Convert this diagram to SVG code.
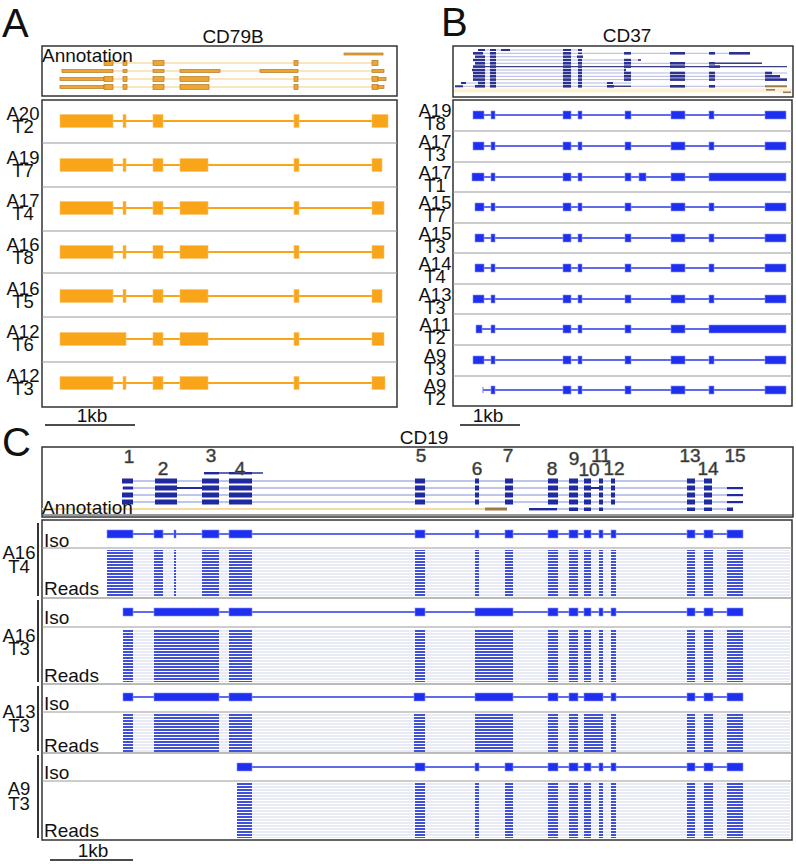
<svg xmlns="http://www.w3.org/2000/svg" width="796" height="864" viewBox="0 0 796 864">
<style>
text{font-family:"Liberation Sans",Arial,sans-serif;fill:#111}
.t{font-size:19px}
.lt{font-size:18.5px;text-anchor:middle}
.big{font-size:40px}
.num{font-size:19px;text-anchor:middle;fill:#222;stroke:#666;stroke-width:0.6}
.box{fill:none;stroke:#333;stroke-width:1.5}
.sep{stroke:#999;stroke-width:1}
.sepd{stroke:#777;stroke-width:1.2}
.ea{fill:#f9a51a;stroke:#fbc46a;stroke-width:0.6}
.la{stroke:#f9a51a;stroke-width:2}
.eaa{fill:#efa532;stroke:#b07a26;stroke-width:0.7}
.laa{stroke:#f6cd7e;stroke-width:1.2}
.eb{fill:#1f2ff0;stroke:#8a94f0;stroke-width:0.6}
.lb{stroke:#2a3ae0;stroke-width:1.5}
.ebb{fill:#2b3190}
.lbb{stroke:#a0a6d4;stroke-width:0.8}
.lbd{stroke:#3a3f80;stroke-width:1.4}
.ecc{fill:#1e2a9e}
.lcc{stroke:#7080d0;stroke-width:0.9}
.rd{fill:url(#rd)}
.gl{fill:url(#gl)}
.sc{stroke:#111;stroke-width:1.3}
.br{stroke:#333;stroke-width:2}
</style>
<defs>
<pattern id="rd" width="4" height="3" patternUnits="userSpaceOnUse"><rect width="4" height="2" fill="#4050d8"/></pattern>
<pattern id="gl" width="4" height="3" patternUnits="userSpaceOnUse"><rect y="0.5" width="4" height="1" fill="#d3d7ea"/></pattern>
</defs>
<rect width="796" height="864" fill="#fff"/>

<!-- ===== Panel A ===== -->
<g id="panelA">
<text class="big" x="2" y="37">A</text>
<text class="t" x="233" y="43" text-anchor="middle">CD79B</text>
<g id="A-annotation">
<rect class="box" x="42" y="46" width="355" height="50"/>
<rect class="eaa" x="344" y="53" width="39" height="2"/>
<line class="laa" x1="104" y1="63" x2="378" y2="63"/>
<rect class="eaa" x="104" y="60.5" width="9" height="5"/><rect class="eaa" x="123" y="60.5" width="4" height="5"/><rect class="eaa" x="153" y="60.5" width="11" height="5"/><rect class="eaa" x="294" y="60.5" width="4" height="5"/><rect class="eaa" x="372" y="60.5" width="6" height="5"/>
<line class="laa" x1="62" y1="71" x2="384" y2="71"/>
<rect class="eaa" x="62" y="69.5" width="51" height="3"/><rect class="eaa" x="123" y="69.5" width="4" height="3"/><rect class="eaa" x="153" y="69.5" width="11" height="3"/><rect class="eaa" x="180" y="69.5" width="40" height="3"/><rect class="eaa" x="260" y="69.5" width="38" height="3"/><rect class="eaa" x="372" y="69.5" width="12" height="3"/>
<line class="laa" x1="60" y1="79" x2="386" y2="79"/>
<rect class="eaa" x="60" y="77.5" width="44" height="3"/><rect class="eaa" x="104" y="76.5" width="9" height="5"/><rect class="eaa" x="123" y="76.5" width="4" height="5"/><rect class="eaa" x="153" y="76.5" width="11" height="5"/><rect class="eaa" x="180" y="76.5" width="29" height="5"/><rect class="eaa" x="294" y="76.5" width="4" height="5"/><rect class="eaa" x="372" y="76.5" width="6" height="5"/><rect class="eaa" x="378" y="77.5" width="8" height="3"/>
<line class="laa" x1="60" y1="87" x2="384" y2="87"/>
<rect class="eaa" x="60" y="85.5" width="44" height="3"/><rect class="eaa" x="104" y="84.5" width="9" height="5"/><rect class="eaa" x="123" y="84.5" width="4" height="5"/><rect class="eaa" x="153" y="84.5" width="11" height="5"/><rect class="eaa" x="180" y="84.5" width="29" height="5"/><rect class="eaa" x="294" y="84.5" width="4" height="5"/><rect class="eaa" x="372" y="84.5" width="6" height="5"/><rect class="eaa" x="378" y="85.5" width="6" height="3"/>
<text class="t" x="42" y="62">Annotation</text>
</g>
<g id="A-tracks">
<rect class="box" x="42" y="100" width="355" height="307" stroke="#555"/>
<line class="sep" x1="42" y1="143" x2="397" y2="143"/><line class="sep" x1="42" y1="187" x2="397" y2="187"/><line class="sep" x1="42" y1="231" x2="397" y2="231"/><line class="sep" x1="42" y1="273" x2="397" y2="273"/><line class="sep" x1="42" y1="317" x2="397" y2="317"/><line class="sep" x1="42" y1="362" x2="397" y2="362"/>
</g>
<g id="A20T2">
<text class="lt" x="23" y="120">A20</text><text class="lt" x="23" y="133">T2</text>
<line class="la" x1="60" y1="121" x2="388" y2="121"/>
<rect class="ea" x="60" y="114.5" width="53" height="13"/><rect class="ea" x="123" y="114.5" width="3" height="13"/><rect class="ea" x="153" y="114.5" width="10" height="13"/><rect class="ea" x="294" y="114.5" width="5" height="13"/><rect class="ea" x="372" y="114.5" width="16" height="13"/>
</g>
<g id="A19T7">
<text class="lt" x="23" y="164">A19</text><text class="lt" x="23" y="177">T7</text>
<line class="la" x1="60" y1="165" x2="382" y2="165"/>
<rect class="ea" x="60" y="158.5" width="53" height="13"/><rect class="ea" x="123" y="158.5" width="3" height="13"/><rect class="ea" x="153" y="158.5" width="10" height="13"/><rect class="ea" x="180" y="158.5" width="28" height="13"/><rect class="ea" x="294" y="158.5" width="5" height="13"/><rect class="ea" x="372" y="158.5" width="10" height="13"/>
</g>
<g id="A17T4">
<text class="lt" x="23" y="207">A17</text><text class="lt" x="23" y="220">T4</text>
<line class="la" x1="60" y1="208" x2="384" y2="208"/>
<rect class="ea" x="60" y="201.5" width="53" height="13"/><rect class="ea" x="123" y="201.5" width="3" height="13"/><rect class="ea" x="153" y="201.5" width="10" height="13"/><rect class="ea" x="180" y="201.5" width="28" height="13"/><rect class="ea" x="294" y="201.5" width="5" height="13"/><rect class="ea" x="372" y="201.5" width="12" height="13"/>
</g>
<g id="A16T8">
<text class="lt" x="23" y="251">A16</text><text class="lt" x="23" y="264">T8</text>
<line class="la" x1="60" y1="252" x2="384" y2="252"/>
<rect class="ea" x="60" y="245.5" width="53" height="13"/><rect class="ea" x="123" y="245.5" width="3" height="13"/><rect class="ea" x="153" y="245.5" width="10" height="13"/><rect class="ea" x="180" y="245.5" width="28" height="13"/><rect class="ea" x="294" y="245.5" width="5" height="13"/><rect class="ea" x="372" y="245.5" width="12" height="13"/>
</g>
<g id="A16T5">
<text class="lt" x="23" y="295">A16</text><text class="lt" x="23" y="308">T5</text>
<line class="la" x1="60" y1="296" x2="382" y2="296"/>
<rect class="ea" x="60" y="289.5" width="53" height="13"/><rect class="ea" x="123" y="289.5" width="3" height="13"/><rect class="ea" x="153" y="289.5" width="10" height="13"/><rect class="ea" x="180" y="289.5" width="28" height="13"/><rect class="ea" x="294" y="289.5" width="5" height="13"/><rect class="ea" x="372" y="289.5" width="10" height="13"/>
</g>
<g id="A12T6">
<text class="lt" x="23" y="338">A12</text><text class="lt" x="23" y="351">T6</text>
<line class="la" x1="60" y1="339" x2="384" y2="339"/>
<rect class="ea" x="60" y="332.5" width="66" height="13"/><rect class="ea" x="153" y="332.5" width="10" height="13"/><rect class="ea" x="180" y="332.5" width="28" height="13"/><rect class="ea" x="294" y="332.5" width="5" height="13"/><rect class="ea" x="372" y="332.5" width="12" height="13"/>
</g>
<g id="A12T3">
<text class="lt" x="23" y="382">A12</text><text class="lt" x="23" y="395">T3</text>
<line class="la" x1="60" y1="383" x2="385" y2="383"/>
<rect class="ea" x="60" y="376.5" width="53" height="13"/><rect class="ea" x="123" y="376.5" width="3" height="13"/><rect class="ea" x="153" y="376.5" width="10" height="13"/><rect class="ea" x="180" y="376.5" width="28" height="13"/><rect class="ea" x="294" y="376.5" width="5" height="13"/><rect class="ea" x="372" y="376.5" width="13" height="13"/>
</g>
<g id="A-scale">
<text class="t" x="92" y="422" text-anchor="middle">1kb</text>
<line class="sc" x1="45" y1="425" x2="135" y2="425"/>
</g>
</g>

<!-- ===== Panel B ===== -->
<g id="panelB">
<text class="big" x="441" y="36">B</text>
<text class="t" x="627" y="42" text-anchor="middle">CD37</text>
<g id="B-annotation">
<rect class="box" x="453" y="46" width="340" height="51"/>
<rect x="454" y="88.5" width="338" height="4" fill="#fbf1d2"/>
<line class="lbb" x1="478" y1="50" x2="582" y2="50"/>
<rect class="ebb" x="478" y="49" width="7" height="2"/><rect class="ebb" x="490" y="49" width="6" height="2"/><rect class="ebb" x="501" y="49" width="9" height="2"/><rect class="ebb" x="563" y="49" width="8" height="2"/><rect class="ebb" x="578" y="49" width="4" height="2"/>
<line class="lbb" x1="473" y1="53.3" x2="750" y2="53.3"/>
<rect class="ebb" x="473" y="52" width="10" height="2.6"/><rect class="ebb" x="490" y="52" width="6" height="2.6"/><rect class="ebb" x="563" y="52" width="8" height="2.6"/><rect class="ebb" x="578" y="52.5" width="4" height="1.6"/><rect class="ebb" x="624" y="52" width="7" height="2.6"/><rect class="ebb" x="670" y="52" width="15" height="2.6"/><rect class="ebb" x="709" y="52" width="6" height="2.6"/><rect class="ebb" x="729" y="52" width="21" height="2.6"/>
<line class="lbb" x1="475" y1="56.7" x2="583" y2="56.7"/>
<rect class="ebb" x="475" y="55.5" width="10" height="2.4"/><rect class="ebb" x="490" y="55.5" width="6" height="2.4"/><rect class="ebb" x="563" y="55.5" width="8" height="2.4"/><rect class="ebb" x="577" y="55.5" width="6" height="2.4"/>
<line class="lbb" x1="473" y1="60" x2="641" y2="60"/>
<rect class="ebb" x="473" y="58.8" width="12" height="2.4"/><rect class="ebb" x="490" y="58.8" width="6" height="2.4"/><rect class="ebb" x="563" y="58.8" width="8" height="2.4"/><rect class="ebb" x="578" y="58.8" width="4" height="2.4"/><rect class="ebb" x="624" y="58.8" width="7" height="2.4"/><rect class="ebb" x="638" y="59.2" width="3" height="1.6"/>
<line class="lbb" x1="475" y1="63.3" x2="762" y2="63.3"/>
<rect class="ebb" x="475" y="62" width="10" height="2.6"/><rect class="ebb" x="490" y="62" width="6" height="2.6"/><rect class="ebb" x="563" y="62" width="8" height="2.6"/><rect class="ebb" x="578" y="62" width="4" height="2.6"/><rect class="ebb" x="624" y="62" width="7" height="2.6"/><rect class="ebb" x="670" y="62" width="15" height="2.6"/><rect class="ebb" x="709" y="62" width="6" height="2.6"/><line class="lbd" x1="709" y1="63.3" x2="762" y2="63.3"/>
<line class="lbd" x1="473" y1="66.6" x2="787" y2="66.6"/>
<rect class="ebb" x="473" y="65.3" width="12" height="2.6"/><rect class="ebb" x="490" y="65.3" width="6" height="2.6"/><rect class="ebb" x="563" y="65.3" width="8" height="2.6"/><rect class="ebb" x="578" y="65.3" width="4" height="2.6"/><rect class="ebb" x="624" y="65.3" width="7" height="2.6"/><rect class="ebb" x="670" y="65.3" width="15" height="2.6"/><rect class="ebb" x="709" y="65.3" width="11" height="2.6"/>
<line class="lbb" x1="472" y1="70" x2="626" y2="70"/>
<rect class="ebb" x="472" y="68.8" width="13" height="2.4"/><rect class="ebb" x="490" y="68.8" width="6" height="2.4"/><rect class="ebb" x="563" y="68.8" width="8" height="2.4"/><rect class="ebb" x="578" y="68.8" width="4" height="2.4"/><rect class="ebb" x="624" y="68.8" width="2" height="2.4"/>
<line class="lbb" x1="473" y1="73" x2="787" y2="73"/>
<rect class="ebb" x="473" y="71.7" width="12" height="2.6"/><rect class="ebb" x="490" y="71.7" width="6" height="2.6"/><rect class="ebb" x="563" y="71.7" width="8" height="2.6"/><rect class="ebb" x="578" y="71.7" width="4" height="2.6"/><rect class="ebb" x="624" y="71.7" width="7" height="2.6"/><rect class="ebb" x="670" y="71.7" width="15" height="2.6"/><rect class="ebb" x="709" y="71.7" width="6" height="2.6"/><rect class="ebb" x="765" y="71.7" width="7" height="2.6"/>
<line class="lbb" x1="473" y1="76.3" x2="780" y2="76.3"/>
<rect class="ebb" x="473" y="75" width="12" height="2.6"/><rect class="ebb" x="490" y="75" width="6" height="2.6"/><rect class="ebb" x="563" y="75" width="8" height="2.6"/><rect class="ebb" x="578" y="75" width="4" height="2.6"/><rect class="ebb" x="624" y="75" width="7" height="2.6"/><rect class="ebb" x="670" y="75" width="15" height="2.6"/><rect class="ebb" x="709" y="75" width="6" height="2.6"/><rect class="ebb" x="765" y="75" width="15" height="2.6"/>
<line class="lbb" x1="473" y1="79.6" x2="787" y2="79.6"/>
<rect class="ebb" x="473" y="78.3" width="12" height="2.6"/><rect class="ebb" x="490" y="78.3" width="6" height="2.6"/><rect class="ebb" x="563" y="78.3" width="8" height="2.6"/><rect class="ebb" x="578" y="78.3" width="4" height="2.6"/><rect class="ebb" x="624" y="78.3" width="7" height="2.6"/><rect class="ebb" x="670" y="78.3" width="15" height="2.6"/><rect class="ebb" x="709" y="78.3" width="6" height="2.6"/><rect class="ebb" x="765" y="78.3" width="22" height="2.6"/>
<line class="lbb" x1="461" y1="83" x2="631" y2="83"/>
<rect class="ebb" x="461" y="82" width="5" height="2"/><rect class="ebb" x="478" y="81.7" width="7" height="2.6"/><rect class="ebb" x="490" y="81.7" width="6" height="2.6"/><rect class="ebb" x="563" y="81.7" width="8" height="2.6"/><rect class="ebb" x="578" y="81.7" width="4" height="2.6"/><rect class="ebb" x="607" y="82" width="6" height="2"/>
<line class="lbb" x1="455" y1="86.3" x2="787" y2="86.3"/>
<rect class="ebb" x="455" y="85.3" width="8" height="2"/><rect class="ebb" x="475" y="85" width="10" height="2.6"/><rect class="ebb" x="490" y="85" width="6" height="2.6"/><rect class="ebb" x="563" y="85" width="8" height="2.6"/><rect class="ebb" x="578" y="85" width="4" height="2.6"/><rect class="ebb" x="607" y="85" width="7" height="2.6"/><line class="lbd" x1="613" y1="86.3" x2="631" y2="86.3"/><rect class="ebb" x="670" y="85" width="15" height="2.6"/><rect class="ebb" x="709" y="85" width="6" height="2.6"/><rect x="765" y="85.3" width="22" height="2" fill="#9c7a4a"/>
<rect x="766" y="89" width="9" height="1.6" fill="#9c7a4a"/><rect x="783" y="91.5" width="8" height="1.6" fill="#9c7a4a"/>
</g>
<g id="B-tracks">
<rect class="box" x="453" y="100" width="339" height="306" stroke="#555"/>
<line class="sep" x1="453" y1="131" x2="792" y2="131"/><line class="sep" x1="453" y1="162" x2="792" y2="162"/><line class="sep" x1="453" y1="192" x2="792" y2="192"/><line class="sep" x1="453" y1="223" x2="792" y2="223"/><line class="sep" x1="453" y1="253" x2="792" y2="253"/><line class="sep" x1="453" y1="284" x2="792" y2="284"/><line class="sep" x1="453" y1="314" x2="792" y2="314"/><line class="sep" x1="453" y1="345" x2="792" y2="345"/><line class="sep" x1="453" y1="376" x2="792" y2="376"/>
</g>
<g id="A19T8">
<text class="lt" x="435" y="117">A19</text><text class="lt" x="435" y="130">T8</text>
<line class="lb" x1="473" y1="115" x2="786" y2="115"/>
<rect class="eb" x="473" y="111" width="11" height="8"/><rect class="eb" x="491" y="111" width="4" height="8"/><rect class="eb" x="563" y="111" width="8" height="8"/><rect class="eb" x="578" y="111" width="4" height="8"/><rect class="eb" x="625" y="111" width="6" height="8"/><rect class="eb" x="671" y="111" width="14" height="8"/><rect class="eb" x="709" y="111" width="5" height="8"/><rect class="eb" x="765" y="111" width="21" height="8"/>
</g>
<g id="A17T3">
<text class="lt" x="435" y="148">A17</text><text class="lt" x="435" y="161">T3</text>
<line class="lb" x1="473" y1="146" x2="786" y2="146"/>
<rect class="eb" x="473" y="142" width="11" height="8"/><rect class="eb" x="491" y="142" width="4" height="8"/><rect class="eb" x="563" y="142" width="8" height="8"/><rect class="eb" x="578" y="142" width="4" height="8"/><rect class="eb" x="625" y="142" width="6" height="8"/><rect class="eb" x="671" y="142" width="14" height="8"/><rect class="eb" x="709" y="142" width="5" height="8"/><rect class="eb" x="765" y="142" width="21" height="8"/>
</g>
<g id="A17T1">
<text class="lt" x="435" y="179">A17</text><text class="lt" x="435" y="192">T1</text>
<line class="lb" x1="472" y1="177" x2="786" y2="177"/>
<rect class="eb" x="472" y="173" width="12" height="8"/><rect class="eb" x="491" y="173" width="4" height="8"/><rect class="eb" x="563" y="173" width="8" height="8"/><rect class="eb" x="578" y="173" width="4" height="8"/><rect class="eb" x="625" y="173" width="6" height="8"/><rect class="eb" x="639" y="173" width="7" height="8"/><rect class="eb" x="671" y="173" width="14" height="8"/><rect class="eb" x="709" y="173" width="77" height="8"/>
</g>
<g id="A15T7">
<text class="lt" x="435" y="209">A15</text><text class="lt" x="435" y="222">T7</text>
<line class="lb" x1="475" y1="207" x2="786" y2="207"/>
<rect class="eb" x="475" y="203" width="9" height="8"/><rect class="eb" x="491" y="203" width="4" height="8"/><rect class="eb" x="563" y="203" width="8" height="8"/><rect class="eb" x="578" y="203" width="4" height="8"/><rect class="eb" x="625" y="203" width="6" height="8"/><rect class="eb" x="671" y="203" width="14" height="8"/><rect class="eb" x="709" y="203" width="5" height="8"/><rect class="eb" x="765" y="203" width="21" height="8"/>
</g>
<g id="A15T3">
<text class="lt" x="435" y="240">A15</text><text class="lt" x="435" y="253">T3</text>
<line class="lb" x1="475" y1="238" x2="786" y2="238"/>
<rect class="eb" x="475" y="234" width="9" height="8"/><rect class="eb" x="491" y="234" width="4" height="8"/><rect class="eb" x="563" y="234" width="8" height="8"/><rect class="eb" x="578" y="234" width="4" height="8"/><rect class="eb" x="625" y="234" width="6" height="8"/><rect class="eb" x="671" y="234" width="14" height="8"/><rect class="eb" x="709" y="234" width="5" height="8"/><rect class="eb" x="765" y="234" width="21" height="8"/>
</g>
<g id="A14T4">
<text class="lt" x="435" y="270">A14</text><text class="lt" x="435" y="283">T4</text>
<line class="lb" x1="475" y1="268" x2="786" y2="268"/>
<rect class="eb" x="475" y="264" width="9" height="8"/><rect class="eb" x="491" y="264" width="4" height="8"/><rect class="eb" x="563" y="264" width="8" height="8"/><rect class="eb" x="578" y="264" width="4" height="8"/><rect class="eb" x="625" y="264" width="6" height="8"/><rect class="eb" x="671" y="264" width="14" height="8"/><rect class="eb" x="709" y="264" width="5" height="8"/><rect class="eb" x="765" y="264" width="21" height="8"/>
</g>
<g id="A13T3">
<text class="lt" x="435" y="301">A13</text><text class="lt" x="435" y="314">T3</text>
<line class="lb" x1="473" y1="299" x2="786" y2="299"/>
<rect class="eb" x="473" y="295" width="11" height="8"/><rect class="eb" x="491" y="295" width="4" height="8"/><rect class="eb" x="563" y="295" width="8" height="8"/><rect class="eb" x="578" y="295" width="4" height="8"/><rect class="eb" x="625" y="295" width="6" height="8"/><rect class="eb" x="671" y="295" width="14" height="8"/><rect class="eb" x="709" y="295" width="5" height="8"/><rect class="eb" x="765" y="295" width="21" height="8"/>
</g>
<g id="A11T2">
<text class="lt" x="435" y="331">A11</text><text class="lt" x="435" y="344">T2</text>
<line class="lb" x1="476" y1="329" x2="786" y2="329"/>
<rect class="eb" x="476" y="325" width="6" height="8"/><rect class="eb" x="491" y="325" width="4" height="8"/><rect class="eb" x="563" y="325" width="8" height="8"/><rect class="eb" x="578" y="325" width="4" height="8"/><rect class="eb" x="625" y="325" width="6" height="8"/><rect class="eb" x="671" y="325" width="14" height="8"/><rect class="eb" x="709" y="325" width="77" height="8"/>
</g>
<g id="A9T3">
<text class="lt" x="435" y="362">A9</text><text class="lt" x="435" y="375">T3</text>
<line class="lb" x1="473" y1="360" x2="786" y2="360"/>
<rect class="eb" x="473" y="356" width="11" height="8"/><rect class="eb" x="491" y="356" width="4" height="8"/><rect class="eb" x="563" y="356" width="8" height="8"/><rect class="eb" x="578" y="356" width="4" height="8"/><rect class="eb" x="625" y="356" width="6" height="8"/><rect class="eb" x="671" y="356" width="14" height="8"/><rect class="eb" x="709" y="356" width="5" height="8"/><rect class="eb" x="765" y="356" width="21" height="8"/>
</g>
<g id="A9T2">
<text class="lt" x="435" y="392">A9</text><text class="lt" x="435" y="405">T2</text>
<line class="lb" x1="483" y1="390" x2="786" y2="390"/>
<line x1="483" y1="387" x2="483" y2="393" stroke="#6a74e0" stroke-width="1"/>
<rect class="eb" x="491" y="386" width="4" height="8"/><rect class="eb" x="563" y="386" width="8" height="8"/><rect class="eb" x="578" y="386" width="4" height="8"/><rect class="eb" x="625" y="386" width="6" height="8"/><rect class="eb" x="671" y="386" width="14" height="8"/><rect class="eb" x="709" y="386" width="5" height="8"/><rect class="eb" x="765" y="386" width="21" height="8"/>
</g>
<g id="B-scale">
<text class="t" x="488" y="422" text-anchor="middle">1kb</text>
<line class="sc" x1="460" y1="425" x2="520" y2="425"/>
</g>
</g>

<!-- ===== Panel C ===== -->
<g id="panelC">
<text class="big" x="2" y="456">C</text>
<text class="t" x="424" y="444" text-anchor="middle">CD19</text>
<g id="C-annotation">
<rect class="box" x="42" y="447" width="751" height="70"/>
<line x1="42" y1="515" x2="793" y2="515" stroke="#333" stroke-width="1"/>
<line x1="42" y1="509" x2="485" y2="509" stroke="#f3dca0" stroke-width="2"/>
<line x1="485" y1="509" x2="507" y2="509" stroke="#a07a44" stroke-width="3"/>
<line x1="204" y1="473" x2="263" y2="473" stroke="#2a3598" stroke-width="1.6"/>
<rect class="ecc" x="204" y="472" width="15" height="2.4"/><rect class="ecc" x="229" y="472" width="23" height="2.4"/>
<line class="lcc" x1="122" y1="481" x2="712" y2="481"/>
<rect class="ecc" x="122" y="478.5" width="11" height="5"/><rect class="ecc" x="155" y="478.5" width="22" height="5"/><rect class="ecc" x="202" y="478.5" width="17" height="5"/><rect class="ecc" x="229" y="478.5" width="23" height="5"/><rect class="ecc" x="415" y="478.5" width="10" height="5"/><rect class="ecc" x="475" y="478.5" width="4" height="5"/><rect class="ecc" x="505" y="478.5" width="8" height="5"/><rect class="ecc" x="548" y="478.5" width="10" height="5"/><rect class="ecc" x="569" y="478.5" width="9" height="5"/><rect class="ecc" x="584" y="478.5" width="7" height="5"/><rect class="ecc" x="599" y="478.5" width="4" height="5"/><rect class="ecc" x="611" y="478.5" width="4" height="5"/><rect class="ecc" x="687" y="478.5" width="8" height="5"/><rect class="ecc" x="704" y="478.5" width="8" height="5"/>
<line class="lcc" x1="122" y1="488" x2="743" y2="488"/>
<rect class="ecc" x="123" y="486.5" width="10" height="3"/><rect class="ecc" x="155" y="485.5" width="22" height="5"/><rect class="ecc" x="177" y="487" width="25" height="2"/><rect class="ecc" x="202" y="485.5" width="17" height="5"/><rect class="ecc" x="229" y="485.5" width="23" height="5"/><rect class="ecc" x="415" y="485.5" width="10" height="5"/><rect class="ecc" x="475" y="485.5" width="4" height="5"/><rect class="ecc" x="505" y="485.5" width="8" height="5"/><rect class="ecc" x="548" y="485.5" width="10" height="5"/><rect class="ecc" x="569" y="485.5" width="9" height="5"/><rect class="ecc" x="584" y="485.5" width="7" height="5"/><rect class="ecc" x="591" y="487" width="8" height="2"/><rect class="ecc" x="599" y="485.5" width="4" height="5"/><rect class="ecc" x="611" y="485.5" width="4" height="5"/><rect class="ecc" x="687" y="485.5" width="8" height="5"/><rect class="ecc" x="704" y="485.5" width="8" height="5"/><rect class="ecc" x="727" y="487" width="16" height="2.2"/>
<line class="lcc" x1="122" y1="495" x2="743" y2="495"/>
<rect class="ecc" x="122" y="492.5" width="11" height="5"/><rect class="ecc" x="155" y="492.5" width="22" height="5"/><rect class="ecc" x="202" y="492.5" width="17" height="5"/><rect class="ecc" x="229" y="492.5" width="23" height="5"/><rect class="ecc" x="415" y="492.5" width="10" height="5"/><rect class="ecc" x="475" y="492.5" width="4" height="5"/><rect class="ecc" x="505" y="492.5" width="8" height="5"/><rect class="ecc" x="548" y="492.5" width="10" height="5"/><rect class="ecc" x="569" y="492.5" width="9" height="5"/><rect class="ecc" x="584" y="492.5" width="7" height="5"/><rect class="ecc" x="599" y="492.5" width="4" height="5"/><rect class="ecc" x="611" y="492.5" width="4" height="5"/><rect class="ecc" x="687" y="492.5" width="8" height="5"/><rect class="ecc" x="704" y="492.5" width="8" height="5"/><rect class="ecc" x="727" y="494" width="16" height="2.2"/>
<line class="lcc" x1="122" y1="502" x2="743" y2="502"/>
<rect class="ecc" x="122" y="499.5" width="11" height="5"/><rect class="ecc" x="155" y="499.5" width="22" height="5"/><rect class="ecc" x="202" y="499.5" width="17" height="5"/><rect class="ecc" x="229" y="499.5" width="23" height="5"/><rect class="ecc" x="415" y="499.5" width="10" height="5"/><rect class="ecc" x="475" y="499.5" width="4" height="5"/><rect class="ecc" x="505" y="499.5" width="8" height="5"/><rect class="ecc" x="548" y="499.5" width="10" height="5"/><rect class="ecc" x="569" y="499.5" width="9" height="5"/><rect class="ecc" x="584" y="499.5" width="7" height="5"/><rect class="ecc" x="599" y="499.5" width="4" height="5"/><rect class="ecc" x="611" y="499.5" width="4" height="5"/><rect class="ecc" x="687" y="499.5" width="8" height="5"/><rect class="ecc" x="704" y="499.5" width="8" height="5"/><rect class="ecc" x="727" y="501" width="16" height="2.2"/>
<line class="lcc" x1="529" y1="509" x2="733" y2="509"/>
<rect class="ecc" x="529" y="508" width="28" height="2.4"/><rect class="ecc" x="569" y="507.5" width="9" height="3.5"/><rect class="ecc" x="584" y="507.5" width="7" height="3.5"/><rect class="ecc" x="599" y="507.5" width="4" height="3.5"/><rect class="ecc" x="687" y="507.5" width="8" height="3.5"/><rect class="ecc" x="704" y="507.5" width="8" height="3.5"/><rect class="ecc" x="727" y="507.5" width="6" height="3.5"/>
<text class="num" x="129" y="463">1</text><text class="num" x="163" y="475">2</text><text class="num" x="211" y="462">3</text><text class="num" x="240" y="475">4</text><text class="num" x="421" y="462">5</text><text class="num" x="477" y="475">6</text><text class="num" x="508" y="462">7</text><text class="num" x="552" y="475">8</text><text class="num" x="574" y="465">9</text><text class="num" x="589" y="476">10</text><text class="num" x="601" y="462">11</text><text class="num" x="614" y="475">12</text><text class="num" x="690" y="462">13</text><text class="num" x="708" y="475">14</text><text class="num" x="735" y="462">15</text>
<text class="t" x="42" y="514">Annotation</text>
</g>
<g id="C-tracks">
<rect class="box" x="42" y="520" width="750" height="320" stroke="#444"/>
<line class="sep" x1="42" y1="548" x2="792" y2="548"/>
<line class="sepd" x1="42" y1="598" x2="792" y2="598"/>
<line class="sep" x1="42" y1="627" x2="792" y2="627"/>
<line class="sepd" x1="42" y1="684" x2="792" y2="684"/>
<line class="sep" x1="42" y1="712" x2="792" y2="712"/>
<line class="sepd" x1="42" y1="753" x2="792" y2="753"/>
<line class="sep" x1="42" y1="781" x2="792" y2="781"/>
<line class="br" x1="38" y1="523" x2="38" y2="596"/>
<line class="br" x1="38" y1="600" x2="38" y2="682"/>
<line class="br" x1="38" y1="686" x2="38" y2="751"/>
<line class="br" x1="38" y1="755" x2="38" y2="838"/>
</g>
<g id="C-A16T4">
<text class="lt" x="19" y="559">A16</text><text class="lt" x="19" y="573">T4</text>
<text class="t" x="44" y="547">Iso</text><text class="t" x="44" y="595">Reads</text>
<line class="lb" x1="107" y1="534" x2="743" y2="534"/>
<rect class="eb" x="107" y="530" width="26" height="8"/><rect class="eb" x="154" y="530" width="9" height="8"/><rect class="eb" x="174" y="530" width="2" height="8"/><rect class="eb" x="202" y="530" width="17" height="8"/><rect class="eb" x="229" y="530" width="23" height="8"/><rect class="eb" x="415" y="530" width="10" height="8"/><rect class="eb" x="475" y="530" width="4" height="8"/><rect class="eb" x="505" y="530" width="8" height="8"/><rect class="eb" x="548" y="530" width="10" height="8"/><rect class="eb" x="569" y="530" width="9" height="8"/><rect class="eb" x="584" y="530" width="7" height="8"/><rect class="eb" x="599" y="530" width="4" height="8"/><rect class="eb" x="611" y="530" width="5" height="8"/><rect class="eb" x="687" y="530" width="8" height="8"/><rect class="eb" x="704" y="530" width="9" height="8"/><rect class="eb" x="727" y="530" width="16" height="8"/>
<rect class="gl" x="107" y="550" width="683" height="46"/>
<rect class="rd" x="107" y="550" width="26" height="46"/><rect class="rd" x="154" y="550" width="9" height="46"/><rect class="rd" x="174" y="550" width="2" height="46"/><rect class="rd" x="202" y="550" width="17" height="46"/><rect class="rd" x="229" y="550" width="23" height="46"/><rect class="rd" x="415" y="550" width="10" height="46"/><rect class="rd" x="475" y="550" width="4" height="46"/><rect class="rd" x="505" y="550" width="8" height="46"/><rect class="rd" x="548" y="550" width="10" height="46"/><rect class="rd" x="569" y="550" width="9" height="46"/><rect class="rd" x="584" y="550" width="7" height="46"/><rect class="rd" x="599" y="550" width="4" height="46"/><rect class="rd" x="611" y="550" width="5" height="46"/><rect class="rd" x="687" y="550" width="8" height="46"/><rect class="rd" x="704" y="550" width="9" height="46"/><rect class="rd" x="727" y="550" width="16" height="46"/>
</g>
<g id="C-A16T3">
<text class="lt" x="19" y="642">A16</text><text class="lt" x="19" y="655">T3</text>
<text class="t" x="44" y="624">Iso</text><text class="t" x="44" y="682">Reads</text>
<line class="lb" x1="123" y1="612" x2="743" y2="612"/>
<rect class="eb" x="123" y="608" width="10" height="8"/><rect class="eb" x="154" y="608" width="65" height="8"/><rect class="eb" x="229" y="608" width="23" height="8"/><rect class="eb" x="415" y="608" width="10" height="8"/><rect class="eb" x="475" y="608" width="38" height="8"/><rect class="eb" x="548" y="608" width="10" height="8"/><rect class="eb" x="569" y="608" width="9" height="8"/><rect class="eb" x="584" y="608" width="7" height="8"/><rect class="eb" x="599" y="608" width="4" height="8"/><rect class="eb" x="611" y="608" width="5" height="8"/><rect class="eb" x="687" y="608" width="8" height="8"/><rect class="eb" x="704" y="608" width="9" height="8"/><rect class="eb" x="727" y="608" width="16" height="8"/>
<rect class="gl" x="123" y="629" width="667" height="53"/>
<rect class="rd" x="123" y="629" width="10" height="53"/><rect class="rd" x="154" y="629" width="65" height="53"/><rect class="rd" x="229" y="629" width="23" height="53"/><rect class="rd" x="415" y="629" width="10" height="53"/><rect class="rd" x="475" y="629" width="38" height="53"/><rect class="rd" x="548" y="629" width="10" height="53"/><rect class="rd" x="569" y="629" width="9" height="53"/><rect class="rd" x="584" y="629" width="7" height="53"/><rect class="rd" x="599" y="629" width="4" height="53"/><rect class="rd" x="611" y="629" width="5" height="53"/><rect class="rd" x="687" y="629" width="8" height="53"/><rect class="rd" x="704" y="629" width="9" height="53"/><rect class="rd" x="727" y="629" width="16" height="53"/>
</g>
<g id="C-A13T3">
<text class="lt" x="19" y="718">A13</text><text class="lt" x="19" y="732">T3</text>
<text class="t" x="44" y="710">Iso</text><text class="t" x="44" y="752">Reads</text>
<line class="lb" x1="123" y1="697" x2="743" y2="697"/>
<rect class="eb" x="123" y="693" width="10" height="8"/><rect class="eb" x="154" y="693" width="65" height="8"/><rect class="eb" x="229" y="693" width="23" height="8"/><rect class="eb" x="414" y="693" width="11" height="8"/><rect class="eb" x="475" y="693" width="38" height="8"/><rect class="eb" x="548" y="693" width="10" height="8"/><rect class="eb" x="569" y="693" width="9" height="8"/><rect class="eb" x="584" y="693" width="19" height="8"/><rect class="eb" x="611" y="693" width="5" height="8"/><rect class="eb" x="687" y="693" width="8" height="8"/><rect class="eb" x="704" y="693" width="9" height="8"/><rect class="eb" x="727" y="693" width="16" height="8"/>
<rect class="gl" x="123" y="714" width="667" height="38"/>
<rect class="rd" x="123" y="714" width="10" height="38"/><rect class="rd" x="154" y="714" width="65" height="38"/><rect class="rd" x="229" y="714" width="23" height="38"/><rect class="rd" x="414" y="714" width="11" height="38"/><rect class="rd" x="475" y="714" width="38" height="38"/><rect class="rd" x="548" y="714" width="10" height="38"/><rect class="rd" x="569" y="714" width="9" height="38"/><rect class="rd" x="584" y="714" width="19" height="38"/><rect class="rd" x="611" y="714" width="5" height="38"/><rect class="rd" x="687" y="714" width="8" height="38"/><rect class="rd" x="704" y="714" width="9" height="38"/><rect class="rd" x="727" y="714" width="16" height="38"/>
</g>
<g id="C-A9T3">
<text class="lt" x="19" y="795">A9</text><text class="lt" x="19" y="810">T3</text>
<text class="t" x="44" y="779">Iso</text><text class="t" x="44" y="837">Reads</text>
<line class="lb" x1="237" y1="767" x2="743" y2="767"/>
<rect class="eb" x="237" y="763" width="15" height="8"/><rect class="eb" x="415" y="763" width="10" height="8"/><rect class="eb" x="475" y="763" width="4" height="8"/><rect class="eb" x="505" y="763" width="8" height="8"/><rect class="eb" x="548" y="763" width="10" height="8"/><rect class="eb" x="569" y="763" width="9" height="8"/><rect class="eb" x="584" y="763" width="7" height="8"/><rect class="eb" x="599" y="763" width="4" height="8"/><rect class="eb" x="611" y="763" width="5" height="8"/><rect class="eb" x="687" y="763" width="8" height="8"/><rect class="eb" x="704" y="763" width="9" height="8"/><rect class="eb" x="727" y="763" width="16" height="8"/>
<rect class="gl" x="237" y="783" width="553" height="55"/>
<rect class="rd" x="237" y="783" width="15" height="55"/><rect class="rd" x="415" y="783" width="10" height="55"/><rect class="rd" x="475" y="783" width="4" height="55"/><rect class="rd" x="505" y="783" width="8" height="55"/><rect class="rd" x="548" y="783" width="10" height="55"/><rect class="rd" x="569" y="783" width="9" height="55"/><rect class="rd" x="584" y="783" width="7" height="55"/><rect class="rd" x="599" y="783" width="4" height="55"/><rect class="rd" x="611" y="783" width="5" height="55"/><rect class="rd" x="687" y="783" width="8" height="55"/><rect class="rd" x="704" y="783" width="9" height="55"/><rect class="rd" x="727" y="783" width="16" height="55"/>
</g>
<g id="C-scale">
<text class="t" x="93" y="857" text-anchor="middle">1kb</text>
<line class="sc" x1="50" y1="860" x2="133" y2="860"/>
</g>
</g>
<g id="connectors"/>
</svg>
